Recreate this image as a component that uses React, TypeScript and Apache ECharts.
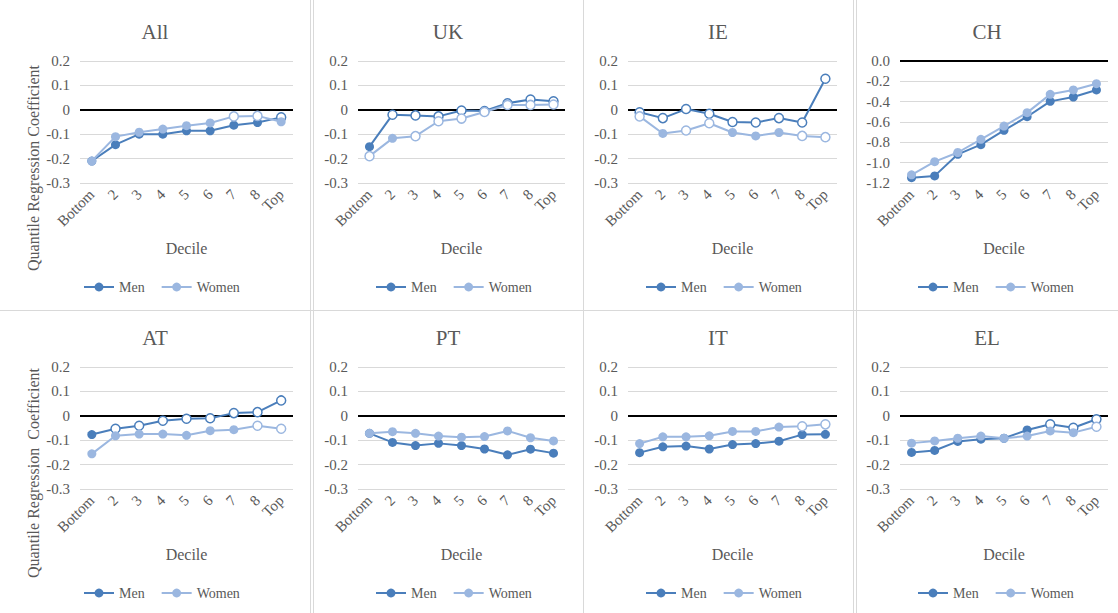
import { useEffect, useRef } from 'react';
import * as echarts from 'echarts';

// Deciles on the horizontal axis
const CATEGORIES = ['Bottom', '2', '3', '4', '5', '6', '7', '8', 'Top'];
const SERIES_NAMES = ['Men', 'Women'];

// Quantile regression coefficients; *_SIG marks significant estimates (1 = filled marker)
const ALL_MEN = [-0.21, -0.143, -0.1, -0.1, -0.086, -0.086, -0.063, -0.052, -0.031];
const ALL_MEN_SIG = [1, 1, 1, 1, 1, 1, 1, 1, 0];
const ALL_WOMEN = [-0.21, -0.11, -0.092, -0.079, -0.065, -0.054, -0.027, -0.025, -0.049];
const ALL_WOMEN_SIG = [1, 1, 1, 1, 1, 1, 0, 0, 1];

const UK_MEN = [-0.151, -0.02, -0.023, -0.027, -0.003, -0.005, 0.027, 0.042, 0.035];
const UK_MEN_SIG = [1, 0, 0, 0, 0, 0, 0, 0, 0];
const UK_WOMEN = [-0.19, -0.117, -0.108, -0.047, -0.036, -0.009, 0.02, 0.02, 0.022];
const UK_WOMEN_SIG = [0, 1, 0, 0, 0, 0, 0, 0, 0];

const IE_MEN = [-0.01, -0.034, 0.003, -0.016, -0.05, -0.052, -0.034, -0.052, 0.127];
const IE_MEN_SIG = [0, 0, 0, 0, 0, 0, 0, 0, 0];
const IE_WOMEN = [-0.027, -0.097, -0.085, -0.055, -0.093, -0.107, -0.093, -0.107, -0.112];
const IE_WOMEN_SIG = [0, 1, 0, 0, 1, 1, 1, 0, 0];

const CH_MEN = [-1.148, -1.13, -0.918, -0.823, -0.682, -0.548, -0.397, -0.354, -0.285];
const CH_MEN_SIG = [1, 1, 1, 1, 1, 1, 1, 1, 1];
const CH_WOMEN = [-1.12, -0.99, -0.9, -0.77, -0.64, -0.508, -0.328, -0.285, -0.223];
const CH_WOMEN_SIG = [1, 1, 1, 1, 1, 1, 1, 1, 1];

const AT_MEN = [-0.077, -0.053, -0.041, -0.02, -0.012, -0.01, 0.011, 0.015, 0.063];
const AT_MEN_SIG = [1, 0, 0, 0, 0, 0, 0, 0, 0];
const AT_WOMEN = [-0.156, -0.082, -0.075, -0.075, -0.08, -0.061, -0.057, -0.041, -0.053];
const AT_WOMEN_SIG = [1, 1, 1, 1, 1, 1, 1, 0, 0];

const PT_MEN = [-0.072, -0.109, -0.122, -0.113, -0.122, -0.136, -0.16, -0.137, -0.153];
const PT_MEN_SIG = [1, 1, 1, 1, 1, 1, 1, 1, 1];
const PT_WOMEN = [-0.072, -0.065, -0.072, -0.083, -0.088, -0.085, -0.062, -0.09, -0.103];
const PT_WOMEN_SIG = [1, 1, 1, 1, 1, 1, 1, 1, 1];

const IT_MEN = [-0.151, -0.127, -0.124, -0.136, -0.118, -0.114, -0.104, -0.077, -0.076];
const IT_MEN_SIG = [1, 1, 1, 1, 1, 1, 1, 1, 1];
const IT_WOMEN = [-0.114, -0.086, -0.086, -0.082, -0.064, -0.064, -0.046, -0.043, -0.035];
const IT_WOMEN_SIG = [1, 1, 1, 1, 1, 1, 1, 0, 0];

const EL_MEN = [-0.15, -0.142, -0.105, -0.096, -0.092, -0.058, -0.035, -0.049, -0.014];
const EL_MEN_SIG = [1, 1, 1, 1, 1, 1, 0, 0, 0];
const EL_WOMEN = [-0.112, -0.103, -0.092, -0.083, -0.092, -0.083, -0.062, -0.069, -0.045];
const EL_WOMEN_SIG = [1, 1, 1, 1, 1, 1, 1, 1, 0];

// Axis ranges
const SMALL_RANGE = { min: -0.3, max: 0.2, interval: 0.1 };
const CH_RANGE = { min: -1.2, max: 0, interval: 0.2 };

const Y_NAME = 'Quantile Regression Coefficient';
const Y_NAME_AT = 'Quantile Regression  Coefficient';

const PANELS = [
  { title: 'All', men: ALL_MEN, menSig: ALL_MEN_SIG, women: ALL_WOMEN, womenSig: ALL_WOMEN_SIG, range: SMALL_RANGE, zeroOne: false },
  { title: 'UK', men: UK_MEN, menSig: UK_MEN_SIG, women: UK_WOMEN, womenSig: UK_WOMEN_SIG, range: SMALL_RANGE, zeroOne: false },
  { title: 'IE', men: IE_MEN, menSig: IE_MEN_SIG, women: IE_WOMEN, womenSig: IE_WOMEN_SIG, range: SMALL_RANGE, zeroOne: false },
  { title: 'CH', men: CH_MEN, menSig: CH_MEN_SIG, women: CH_WOMEN, womenSig: CH_WOMEN_SIG, range: CH_RANGE, zeroOne: true },
  { title: 'AT', men: AT_MEN, menSig: AT_MEN_SIG, women: AT_WOMEN, womenSig: AT_WOMEN_SIG, range: SMALL_RANGE, zeroOne: false },
  { title: 'PT', men: PT_MEN, menSig: PT_MEN_SIG, women: PT_WOMEN, womenSig: PT_WOMEN_SIG, range: SMALL_RANGE, zeroOne: false },
  { title: 'IT', men: IT_MEN, menSig: IT_MEN_SIG, women: IT_WOMEN, womenSig: IT_WOMEN_SIG, range: SMALL_RANGE, zeroOne: false },
  { title: 'EL', men: EL_MEN, menSig: EL_MEN_SIG, women: EL_WOMEN, womenSig: EL_WOMEN_SIG, range: SMALL_RANGE, zeroOne: false },
];

// Layout of the 4 x 2 grid of panels
const PLOT_LEFT = [80, 358, 628, 900];
const PLOT_WIDTH = [213, 207, 209, 208];
const PANEL_CENTER = [155, 448, 718, 987];
const LEGEND_LEFT = [83, 375, 645, 917];
const PLOT_TOP = [61, 367];
const PLOT_HEIGHT = 122;
const TITLE_TOP = [21, 327];
const LEGEND_TOP = [280, 586];

const MEN_COLOR = '#4A7EBB';
const WOMEN_COLOR = '#9BB7E0';
const TEXT_COLOR = '#595959';
const GRID_COLOR = '#D9D9D9';
const FONT = "'Liberation Serif', serif";

function points(values: number[], sig: number[], color: string) {
  return values.map((v, i) => ({
    value: v,
    itemStyle: sig[i]
      ? { color, borderColor: color, borderWidth: 0 }
      : { color: '#ffffff', borderColor: color, borderWidth: 1.5 },
  }));
}

function buildOption() {
  const titles: any[] = [];
  const grids: any[] = [];
  const xAxes: any[] = [];
  const yAxes: any[] = [];
  const legends: any[] = [];
  const series: any[] = [];

  PANELS.forEach((p, i) => {
    const col = i % 4;
    const row = Math.floor(i / 4);
    titles.push({
      text: p.title,
      left: PANEL_CENTER[col],
      top: TITLE_TOP[row],
      textAlign: 'center',
      padding: 0,
      textStyle: { fontFamily: FONT, fontSize: 21, fontWeight: 'normal', color: TEXT_COLOR },
    });
    grids.push({
      left: PLOT_LEFT[col],
      top: PLOT_TOP[row],
      width: PLOT_WIDTH[col],
      height: PLOT_HEIGHT,
      containLabel: false,
    });
    xAxes.push({
      type: 'category',
      gridIndex: i,
      data: CATEGORIES,
      boundaryGap: true,
      name: 'Decile',
      nameLocation: 'middle',
      nameGap: 57,
      nameTextStyle: { fontFamily: FONT, fontSize: 16, color: TEXT_COLOR },
      axisLine: { show: false, onZero: false },
      axisTick: { show: false },
      axisLabel: { interval: 0, rotate: 45, margin: 9, fontFamily: FONT, fontSize: 15, color: TEXT_COLOR },
      splitLine: { show: false },
    });
    yAxes.push({
      type: 'value',
      gridIndex: i,
      min: p.range.min,
      max: p.range.max,
      interval: p.range.interval,
      axisLine: { show: false },
      axisTick: { show: false },
      axisLabel: {
        margin: 10,
        fontFamily: FONT,
        fontSize: 15,
        color: TEXT_COLOR,
        formatter: (v: number) => {
          const r = Math.round(v * 10) / 10;
          if (p.zeroOne) return r.toFixed(1);
          return r === 0 ? '0' : r.toFixed(1);
        },
      },
      splitLine: { show: true, lineStyle: { color: GRID_COLOR, width: 1 } },
    });
    legends.push({
      data: SERIES_NAMES,
      left: LEGEND_LEFT[col],
      top: LEGEND_TOP[row],
      padding: 0,
      itemWidth: 30,
      itemHeight: 11,
      itemGap: 16,
      selectedMode: false,
      textStyle: { fontFamily: FONT, fontSize: 14, color: TEXT_COLOR },
    });
    series.push({
      name: 'Men',
      type: 'line',
      xAxisIndex: i,
      yAxisIndex: i,
      symbol: 'circle',
      symbolSize: 9,
      lineStyle: { color: MEN_COLOR, width: 2 },
      itemStyle: { color: MEN_COLOR },
      data: points(p.men, p.menSig, MEN_COLOR),
      z: 3,
      markLine: {
        silent: true,
        symbol: 'none',
        label: { show: false },
        lineStyle: { color: '#000000', width: 2, type: 'solid' },
        data: [{ yAxis: 0 }],
        z: 2,
      },
    });
    series.push({
      name: 'Women',
      type: 'line',
      xAxisIndex: i,
      yAxisIndex: i,
      symbol: 'circle',
      symbolSize: 9,
      lineStyle: { color: WOMEN_COLOR, width: 2 },
      itemStyle: { color: WOMEN_COLOR },
      data: points(p.women, p.womenSig, WOMEN_COLOR),
      z: 4,
    });
  });

  const borderLine = (x1: number, y1: number, x2: number, y2: number) => ({
    type: 'line',
    shape: { x1, y1, x2, y2 },
    style: { stroke: GRID_COLOR, lineWidth: 1 },
    silent: true,
  });

  const graphic: any[] = [
    borderLine(310.5, 0, 310.5, 613),
    borderLine(313.5, 0, 313.5, 613),
    borderLine(583.5, 0, 583.5, 613),
    borderLine(853.5, 0, 853.5, 613),
    borderLine(856.5, 0, 856.5, 613),
    borderLine(0, 310.5, 1118, 310.5),
    {
      type: 'text',
      x: 33,
      y: 168,
      rotation: Math.PI / 2,
      style: { text: Y_NAME, fontFamily: FONT, fontSize: 16, fill: TEXT_COLOR, align: 'center', verticalAlign: 'middle' },
      silent: true,
    },
    {
      type: 'text',
      x: 33,
      y: 473,
      rotation: Math.PI / 2,
      style: { text: Y_NAME_AT, fontFamily: FONT, fontSize: 16, fill: TEXT_COLOR, align: 'center', verticalAlign: 'middle' },
      silent: true,
    },
  ];

  return {
    animation: false,
    backgroundColor: '#ffffff',
    title: titles,
    grid: grids,
    xAxis: xAxes,
    yAxis: yAxes,
    legend: legends,
    series,
    graphic,
  };
}

export default function App() {
  const ref = useRef<HTMLDivElement>(null);
  useEffect(() => {
    if (!ref.current) return;
    const chart = echarts.init(ref.current, null, { renderer: 'svg' });
    chart.setOption(buildOption() as any);
    return () => chart.dispose();
  }, []);
  return (
    <div
      ref={ref}
      style={{ position: 'fixed', left: 0, top: 0, width: 1118, height: 613, background: '#ffffff' }}
    />
  );
}
